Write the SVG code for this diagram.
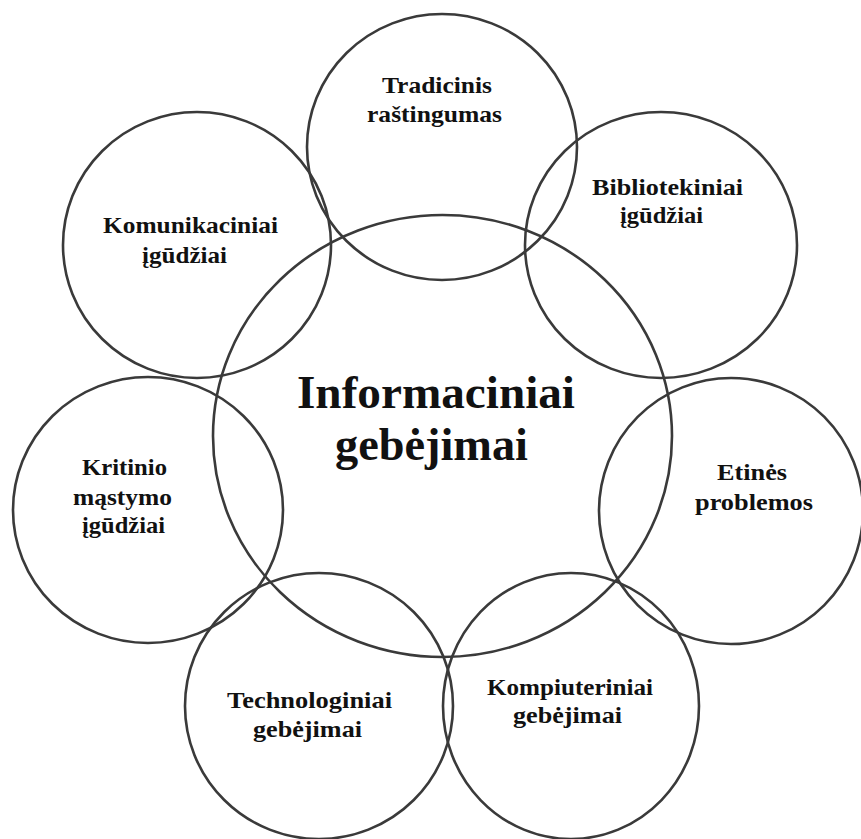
<svg xmlns="http://www.w3.org/2000/svg" width="861" height="839" viewBox="0 0 861 839">
<style>
.c{fill:none;stroke:#3a3a3a;stroke-width:2.6}
.t{font-family:"Liberation Serif","Times New Roman",serif;font-weight:bold;font-size:23px;fill:#111}
.big{font-family:"Liberation Serif","Times New Roman",serif;font-weight:bold;font-size:46px;fill:#111}
</style>
<rect width="861" height="839" fill="#fff"/>
<g id="connectors"></g>
<g id="n-center">
<ellipse class="c" cx="442.5" cy="436" rx="229.5" ry="221"/>
<text class="big" x="297" y="408" textLength="278" lengthAdjust="spacingAndGlyphs">Informaciniai</text>
<text class="big" x="335" y="460" textLength="193" lengthAdjust="spacingAndGlyphs">gebėjimai</text>
</g>
<g id="n-tradicinis">
<ellipse class="c" cx="442" cy="147" rx="135" ry="133"/>
<text class="t" x="382" y="93" textLength="110" lengthAdjust="spacingAndGlyphs">Tradicinis</text>
<text class="t" x="367" y="122" textLength="135" lengthAdjust="spacingAndGlyphs">raštingumas</text>
</g>
<g id="n-bibliotekiniai">
<ellipse class="c" cx="661" cy="245" rx="136" ry="133"/>
<text class="t" x="592" y="195" textLength="151" lengthAdjust="spacingAndGlyphs">Bibliotekiniai</text>
<text class="t" x="620" y="223" textLength="83" lengthAdjust="spacingAndGlyphs">įgūdžiai</text>
</g>
<g id="n-komunikaciniai">
<ellipse class="c" cx="197" cy="245" rx="134" ry="133"/>
<text class="t" x="103" y="233" textLength="175" lengthAdjust="spacingAndGlyphs">Komunikaciniai</text>
<text class="t" x="142" y="263" textLength="85" lengthAdjust="spacingAndGlyphs">įgūdžiai</text>
</g>
<g id="n-kritinio">
<ellipse class="c" cx="148" cy="510" rx="135" ry="133"/>
<text class="t" x="82" y="475" textLength="85" lengthAdjust="spacingAndGlyphs">Kritinio</text>
<text class="t" x="73" y="505" textLength="99" lengthAdjust="spacingAndGlyphs">mąstymo</text>
<text class="t" x="82" y="533" textLength="83" lengthAdjust="spacingAndGlyphs">įgūdžiai</text>
</g>
<g id="n-etines">
<ellipse class="c" cx="731" cy="511" rx="132" ry="133"/>
<text class="t" x="717" y="480" textLength="70" lengthAdjust="spacingAndGlyphs">Etinės</text>
<text class="t" x="695" y="510" textLength="118" lengthAdjust="spacingAndGlyphs">problemos</text>
</g>
<g id="n-technologiniai">
<ellipse class="c" cx="319" cy="706" rx="134" ry="133"/>
<text class="t" x="227" y="708" textLength="165" lengthAdjust="spacingAndGlyphs">Technologiniai</text>
<text class="t" x="253" y="737" textLength="109" lengthAdjust="spacingAndGlyphs">gebėjimai</text>
</g>
<g id="n-kompiuteriniai">
<ellipse class="c" cx="571" cy="706" rx="128" ry="133"/>
<text class="t" x="487" y="695" textLength="166" lengthAdjust="spacingAndGlyphs">Kompiuteriniai</text>
<text class="t" x="513" y="723" textLength="109" lengthAdjust="spacingAndGlyphs">gebėjimai</text>
</g>
</svg>
